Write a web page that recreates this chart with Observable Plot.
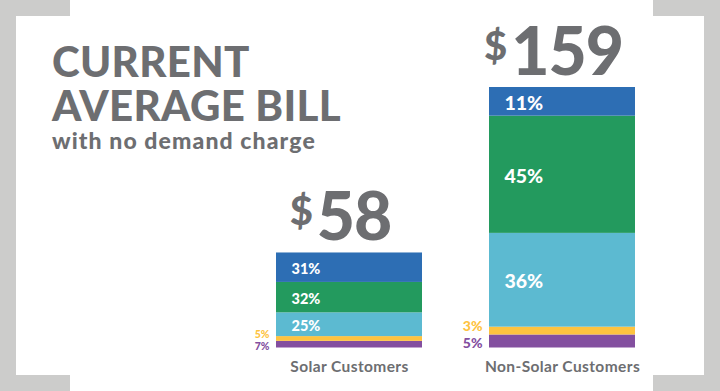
<!DOCTYPE html>
<html>
<head>
<meta charset="utf-8">
<script src="https://cdn.jsdelivr.net/npm/d3@7"></script>
<script src="https://cdn.jsdelivr.net/npm/@observablehq/plot@0.6"></script>
<style>
  html, body { margin: 0; padding: 0; background: #ffffff; }
  #wrap { position: relative; width: 720px; height: 391px; overflow: hidden; background: #ffffff; font-family: Lato, "Open Sans", sans-serif; }
  .corner { position: absolute; background: #cccccb; }
  .title { position: absolute; left: 52px; white-space: nowrap; color: #6d6e71; font-weight: 900; }
  #chart { position: absolute; left: 0; top: 0; }
  #chart svg { background: transparent; }
  #chart g[aria-label="x-axis tick label"] text { font-weight: 700; letter-spacing: 0.4px; }
</style>
</head>
<body>
<div id="wrap">
  <div class="corner" style="left:0;top:0;width:16px;height:391px"></div>
  <div class="corner" style="left:0;top:0;width:70px;height:16px"></div>
  <div class="corner" style="left:0;top:375px;width:70px;height:16px"></div>
  <div class="corner" style="left:704px;top:0;width:16px;height:391px"></div>
  <div class="corner" style="left:653px;top:0;width:67px;height:16px"></div>
  <div class="corner" style="left:653px;top:375px;width:67px;height:16px"></div>
  <div class="title" style="top:42px;font-size:42px;line-height:38px;letter-spacing:0.3px">CURRENT</div>
  <div class="title" style="top:86px;font-size:42px;line-height:38px;letter-spacing:0.3px">AVERAGE BILL</div>
  <div class="title" style="top:130px;font-size:23px;line-height:20px;font-weight:900;letter-spacing:1.1px">with no demand charge</div>
  <div id="chart"></div>
</div>
<script>
// ---- data ----
const groups = ["Solar Customers", "Non-Solar Customers"];
const totals = [58, 159];
// components, stacked bottom to top
const components = ["Component E", "Component D", "Component C", "Component B", "Component A"];
const solarShares = [7, 5, 25, 32, 31];
const nonSolarShares = [5, 3, 36, 45, 11];
const componentColors = ["#834f9f", "#fec33f", "#5cbad1", "#239a5e", "#2d6eb4"];

// ---- derived tables ----
const sharesByGroup = [solarShares, nonSolarShares];
const rows = [];
groups.forEach((g, gi) => {
  components.forEach((c, ci) => {
    rows.push({group: g, comp: c, share: sharesByGroup[gi][ci], value: totals[gi] * sharesByGroup[gi][ci] / 100, gi, ci});
  });
});
const totalRows = groups.map((g, i) => ({group: g, total: totals[i]}));

const stackOpts = {x: "group", y: "value", z: "comp", order: null};

const chart = Plot.plot({
  width: 720,
  height: 391,
  marginTop: 87,
  marginBottom: 43.5,
  marginLeft: 276,
  marginRight: 84,
  style: {background: "transparent", fontFamily: "Lato, 'Open Sans', sans-serif"},
  x: {domain: groups, paddingInner: 0.314, paddingOuter: 0, label: null},
  y: {domain: [0, 159], axis: null},
  color: {domain: components, range: componentColors},
  marks: [
    Plot.barY(rows, Plot.stackY({...stackOpts, fill: "comp", inset: 0})),
    // labels inside the large segments
    Plot.text(rows, Plot.stackY({
      ...stackOpts,
      text: d => d.ci >= 2 ? d.share + "%" : "",
      fill: "white",
      fontWeight: 900,
      fontSize: d => d.gi === 0 ? 14.5 : 19.5,
      textAnchor: "start",
      dx: -58,
      dy: 1.5
    })),
    // small segment labels to the left of the bars
    Plot.text(rows, Plot.stackY({
      ...stackOpts,
      text: d => d.ci === 1 ? d.share + "%" : "",
      fill: "comp",
      fontWeight: 900,
      fontSize: d => d.gi === 0 ? 10.5 : 14,
      textAnchor: "end",
      dx: -80,
      dy: -4.5
    })),
    Plot.text(rows, Plot.stackY({
      ...stackOpts,
      text: d => d.ci === 0 ? d.share + "%" : "",
      fill: "comp",
      fontWeight: 900,
      fontSize: d => d.gi === 0 ? 10.5 : 14,
      textAnchor: "end",
      dx: -80,
      dy: 2
    })),
    // totals above bars
    Plot.text(totalRows, {
      x: "group",
      y: "total",
      text: d => "$" + d.total,
      lineAnchor: "bottom",
      textAnchor: "middle",
      dx: -9,
      dy: -13,
      fontSize: 66,
      fontWeight: 900,
      fill: "#6d6e71"
    }),
    Plot.axisX({tickSize: 0, tickPadding: 13, fontSize: 15.5, fontWeight: 700, color: "#6d6e71", label: null})
  ]
});

// style the dollar sign smaller and raised
d3.select(chart).selectAll("text").each(function() {
  const t = this.textContent;
  if (!t || t[0] !== "$") return;
  const sel = d3.select(this);
  sel.text(null);
  sel.append("tspan").attr("font-size", 40).attr("dy", -15).text("$");
  sel.append("tspan").attr("dx", 4).attr("dy", 15).attr("letter-spacing", -1).text(t.slice(1));
});

document.getElementById("chart").appendChild(chart);
</script>
</body>
</html>
